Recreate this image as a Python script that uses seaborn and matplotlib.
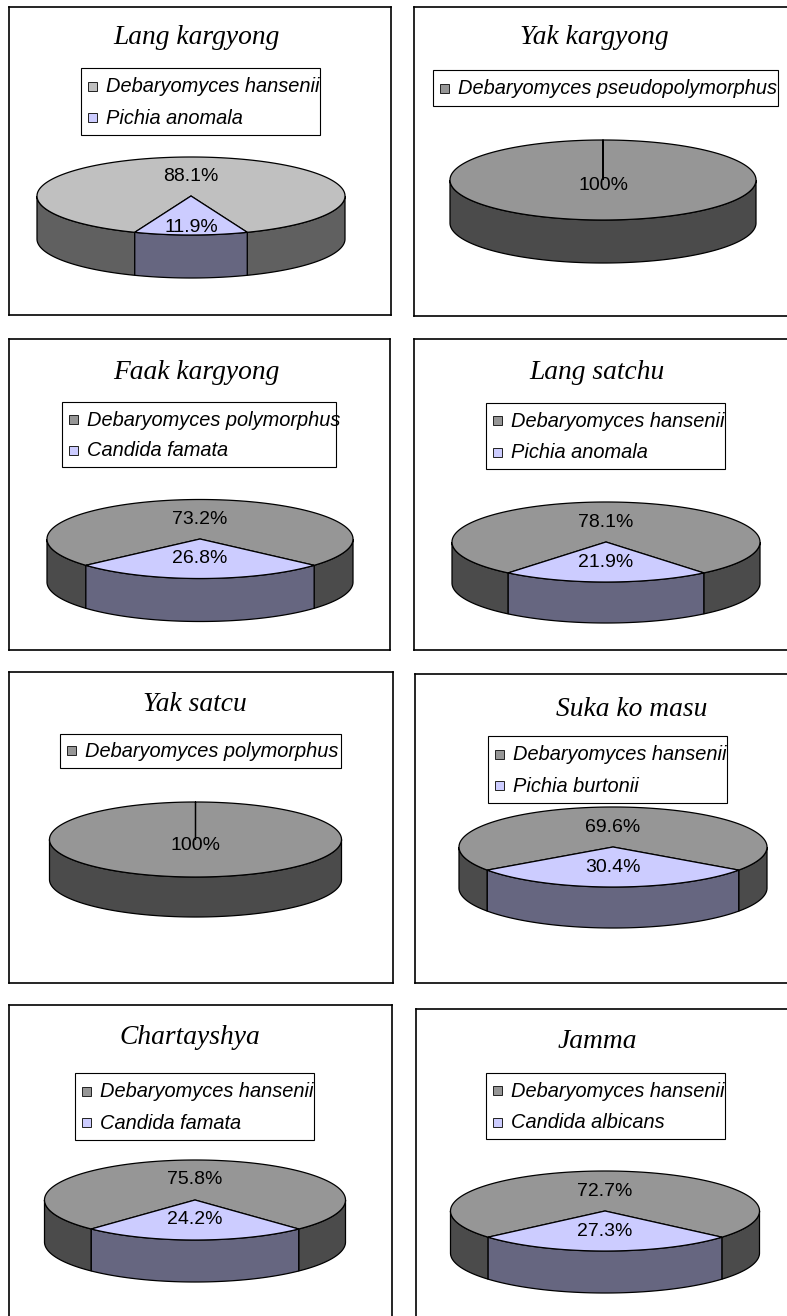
import numpy as np
import matplotlib
matplotlib.use("Agg")
import matplotlib.pyplot as plt
from matplotlib.patches import Polygon, Rectangle
import seaborn as sns

sns.set_theme(style="white")
plt.rcParams['font.family'] = ['Liberation Sans', 'DejaVu Sans']

# ---- data -------------------------------------------------------------
titles = ["Lang kargyong", "Yak kargyong", "Faak kargyong", "Lang satchu",
          "Yak satcu", "Suka ko masu", "Chartayshya", "Jamma"]

species = [
    ["Debaryomyces hansenii", "Pichia anomala"],
    ["Debaryomyces pseudopolymorphus"],
    ["Debaryomyces polymorphus", "Candida famata"],
    ["Debaryomyces hansenii", "Pichia anomala"],
    ["Debaryomyces polymorphus"],
    ["Debaryomyces hansenii", "Pichia burtonii"],
    ["Debaryomyces hansenii", "Candida famata"],
    ["Debaryomyces hansenii", "Candida albicans"],
]

shares = [
    [88.1, 11.9],
    [100.0],
    [73.2, 26.8],
    [78.1, 21.9],
    [100.0],
    [69.6, 30.4],
    [75.8, 24.2],
    [72.7, 27.3],
]

# ---- layout (figure pixels, y downwards) ------------------------------
W, H = 787, 1316
boxes = [(9, 7, 391, 315), (414, 7, 796, 316),
         (9, 339, 390, 650), (414, 339, 796, 650),
         (9, 672, 393, 983), (415, 674, 797, 983),
         (9, 1005, 392, 1318), (416, 1009, 798, 1320)]
title_xy = [(197, 37), (594, 37), (196, 372), (597, 372),
            (195, 705), (632, 710), (190, 1037), (597, 1042)]
legend_boxes = [(81, 68, 320, 135), (433, 70, 778, 106),
                (62, 402, 336, 467), (486, 403, 725, 469),
                (60, 734, 341, 768), (488, 736, 727, 803),
                (75, 1073, 314, 1140), (486, 1073, 725, 1139)]
# centre x, centre y, x radius, y radius, wall depth
pies = [(191, 196, 154, 39, 43), (603, 180, 153, 40, 43),
        (200, 539, 153, 39.5, 43), (606, 542, 154, 40, 41),
        (195.5, 839.5, 146, 37.5, 40), (613, 847, 154, 40, 41),
        (195, 1200, 150.5, 40, 42), (605, 1211, 154.5, 40, 42)]

GRAY = "#969696"
SILVER = "#C0C0C0"
LAVENDER = "#CCCCFF"


def shade(c, f=0.5):
    r, g, b = matplotlib.colors.to_rgb(c)
    return (r * f, g * f, b * f)


def arc(cx, cy, a, b, t0, t1, n=None):
    if n is None:
        n = max(int(abs(t1 - t0) * 2), 4)
    t = np.radians(np.linspace(t0, t1, n))
    return np.column_stack([cx + a * np.cos(t), cy - b * np.sin(t)])


fig = plt.figure(figsize=(W / 100, H / 100), dpi=100)
fig.patch.set_facecolor("white")

for i in range(len(titles)):
    x0, y0, x1, y1 = boxes[i]
    ax = fig.add_axes([x0 / W, 1 - y1 / H, (x1 - x0) / W, (y1 - y0) / H])
    ax.set_xlim(x0, x1)
    ax.set_ylim(y1, y0)
    ax.set_xticks([])
    ax.set_yticks([])
    ax.set_facecolor("white")
    for sp in ax.spines.values():
        sp.set_visible(True)
        sp.set_color("black")
        sp.set_linewidth(1.2)

    vals = np.array(shares[i], dtype=float)
    frac = vals / vals.sum()
    main = SILVER if i == 0 else GRAY
    colors = [main, LAVENDER][:len(vals)]

    # slice angles: clockwise from a start angle, second slice facing front
    start = 90.0 if len(vals) == 1 else 270.0 - 180.0 * frac[1]
    spans = []
    cur = start
    for f in frac:
        spans.append((cur - 360 * f, cur))
        cur -= 360 * f

    cx, cy, a, b, d = pies[i]

    # side walls (front half only)
    for (lo, hi), c in zip(spans, colors):
        for k in range(-2, 3):
            s0 = max(lo, 180 + 360 * k)
            s1 = min(hi, 360 + 360 * k)
            if s1 - s0 > 0.01:
                top = arc(cx, cy, a, b, s0, s1)
                bot = top[::-1].copy()
                bot[:, 1] += d
                ax.add_patch(Polygon(np.vstack([top, bot]), closed=True,
                                     facecolor=shade(c), edgecolor="black",
                                     linewidth=0.9, zorder=2))

    # top faces
    for (lo, hi), c in zip(spans, colors):
        pts = np.vstack([[cx, cy], arc(cx, cy, a, b, lo, hi)])
        ax.add_patch(Polygon(pts, closed=True, facecolor=c,
                             edgecolor="black", linewidth=0.9, zorder=3))

    # value labels
    for (lo, hi), v, f in zip(spans, vals, frac):
        mid = np.radians((lo + hi) / 2)
        if len(vals) == 1:
            r = 0.15
        elif f < 0.15:
            r = 0.8
        else:
            r = 0.5
        lx = cx + r * a * np.cos(mid)
        ly = cy - r * b * np.sin(mid)
        txt = "100%" if v == 100 else f"{v:.1f}%"
        ax.text(lx, ly, txt, ha="center", va="center", fontsize=14,
                color="black", zorder=5)

    # title
    tx, ty = title_xy[i]
    ax.text(tx, ty, titles[i], ha="center", va="center", fontsize=19.8,
            style="italic", family=["Liberation Serif", "DejaVu Serif"],
            color="black", zorder=5)

    # legend
    lx0, ly0, lx1, ly1 = legend_boxes[i]
    lbox = Rectangle((lx0, ly0), lx1 - lx0, ly1 - ly0, facecolor="white",
                     edgecolor="black", linewidth=0.8, zorder=4)
    ax.add_patch(lbox)
    n = len(species[i])
    hgt = ly1 - ly0
    rows = [ly0 + hgt / 2] if n == 1 else [ly0 + 0.27 * hgt, ly0 + 0.745 * hgt]
    for name, c, ry in zip(species[i], colors, rows):
        ax.add_patch(Rectangle((lx0 + 7, ry - 4.5), 9, 9, facecolor=c,
                               edgecolor="#202020", linewidth=0.7, zorder=5))
        t = ax.text(lx0 + 25, ry + 0.5, name, ha="left", va="center",
                    fontsize=14.4, style="italic", color="black", zorder=5)
        t.set_clip_path(lbox)

fig.savefig("out.png", dpi=100, facecolor="white")
